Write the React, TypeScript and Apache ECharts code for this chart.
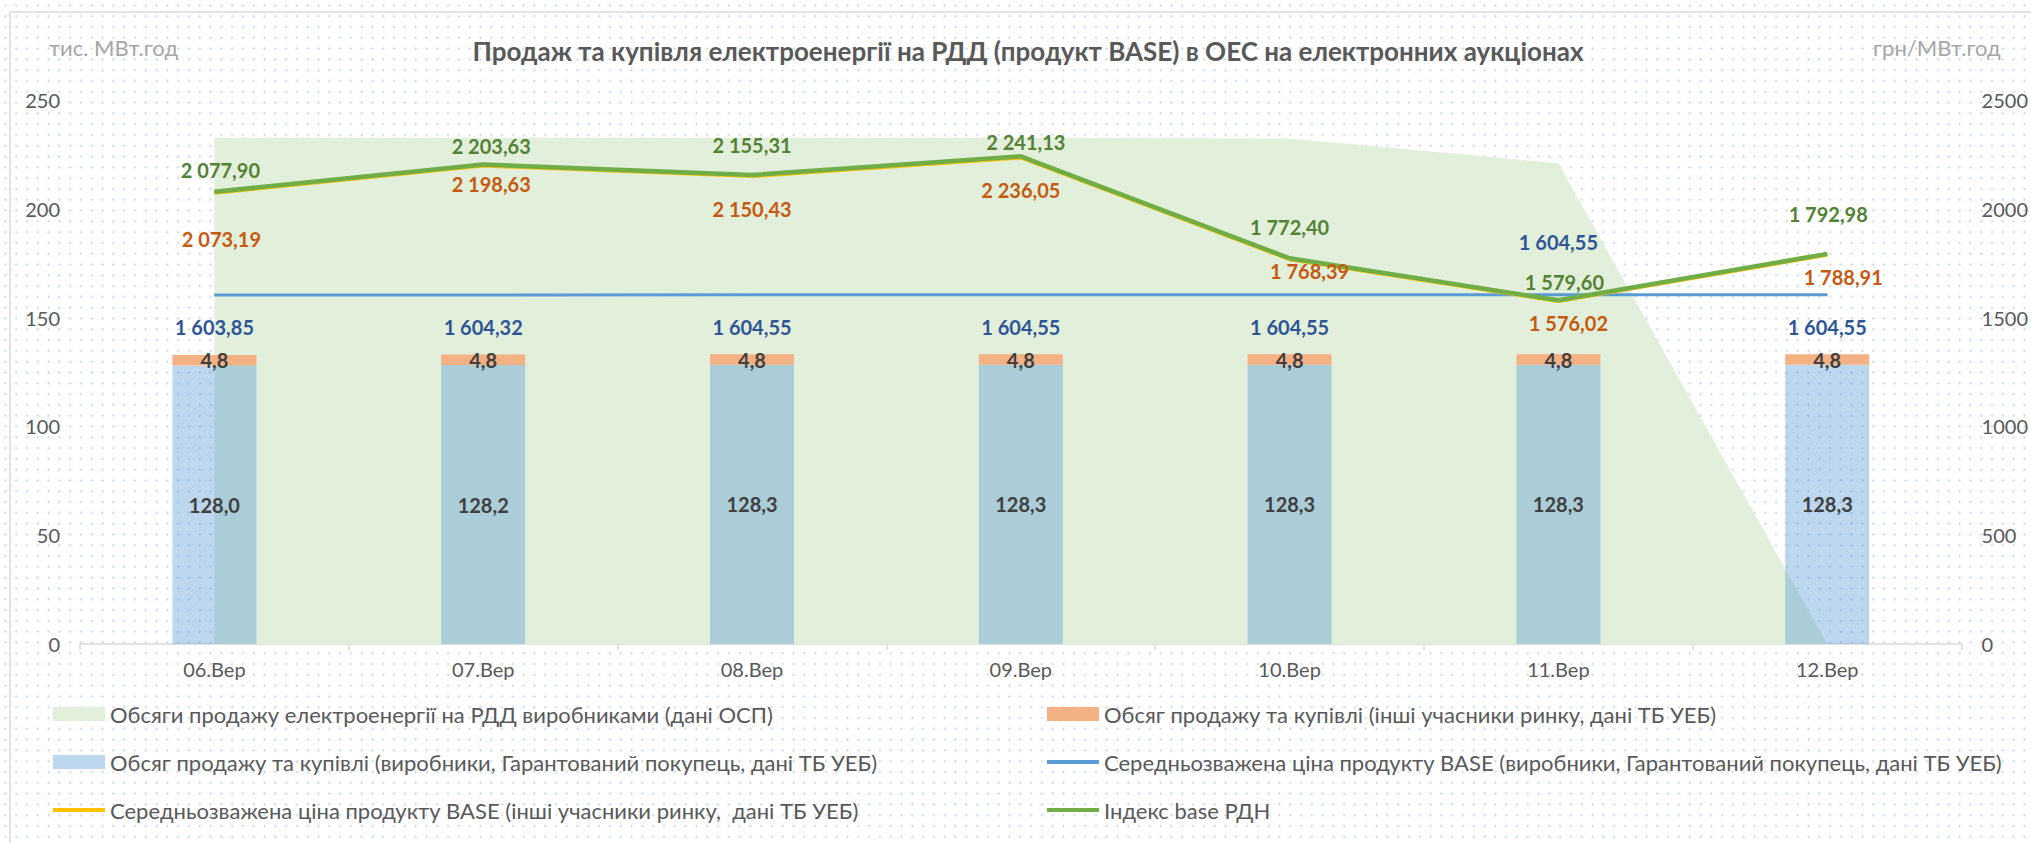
import React, { useEffect, useRef } from 'react';
import * as echarts from 'echarts';

// ---------- data ----------
const categories = ['06.Вер', '07.Вер', '08.Вер', '09.Вер', '10.Вер', '11.Вер', '12.Вер'];
const ospVolumes = [232.7, 232.7, 232.6, 232.6, 232.3, 220.9, 0];
const producerVolumes = [128.0, 128.2, 128.3, 128.3, 128.3, 128.3, 128.3];
const otherVolumes = [4.8, 4.8, 4.8, 4.8, 4.8, 4.8, 4.8];
const producerPrice = [1603.85, 1604.32, 1604.55, 1604.55, 1604.55, 1604.55, 1604.55];
const otherPrice = [2073.19, 2198.63, 2150.43, 2236.05, 1768.39, 1576.02, 1788.91];
const rdnIndex = [2077.9, 2203.63, 2155.31, 2241.13, 1772.4, 1579.6, 1792.98];
const leftAxisMax = 250;
const leftAxisStep = 50;
const rightAxisMax = 2500;
const rightAxisStep = 500;

const seriesNames = {
  osp: 'Обсяги продажу електроенергії на РДД виробниками (дані ОСП)',
  other: 'Обсяг продажу та купівлі (інші учасники ринку, дані ТБ УЕБ)',
  producers: 'Обсяг продажу та купівлі (виробники, Гарантований покупець, дані ТБ УЕБ)',
  producerPrice: 'Середньозважена ціна продукту BASE (виробники, Гарантований покупець, дані ТБ УЕБ)',
  otherPrice: 'Середньозважена ціна продукту BASE (інші учасники ринку,  дані ТБ УЕБ)',
  rdn: 'Індекс base РДН',
};
const titleText = 'Продаж та купівля електроенергії на РДД (продукт BASE) в ОЕС на електронних аукціонах';
const leftUnit = 'тис. МВт.год';
const rightUnit = 'грн/МВт.год';

// ---------- layout (label nudges, px) ----------
const rdnLabelShift = [[6, -22], [8, -18], [0, -30], [5, -14], [0, -31], [6, -18], [1, -40]];
const otherLabelShift = [[7, 46], [8, 18], [0, 33], [0, 33], [20, 12], [10, 22], [16, 22]];
const producerLabelShift = [[0, 32], [0, 32], [0, 32], [0, 32], [0, 32], [0, -53], [0, 32]];

const FONT = "Lato, 'Open Sans', sans-serif";

function fmt(v: number, d: number): string {
  const s = v.toFixed(d);
  const [i, f] = s.split('.');
  const ii = i.replace(/\B(?=(\d{3})+(?!\d))/g, ' ');
  return f ? ii + ',' + f : ii;
}

function priceSeries(name: string, values: number[], shifts: number[][], lineColor: string, labelColor: string, width: number) {
  return {
    name,
    type: 'line',
    yAxisIndex: 1,
    symbol: 'circle',
    symbolSize: 1,
    showSymbol: true,
    z: 4,
    lineStyle: { color: lineColor, width },
    itemStyle: { color: lineColor },
    data: values.map((v, i) => ({
      value: v,
      label: { offset: shifts[i] },
    })),
    label: {
      show: true,
      position: 'inside',
      align: 'center',
      verticalAlign: 'middle',
      fontFamily: FONT,
      fontWeight: 'bold',
      fontSize: 20,
      color: labelColor,
      formatter: (p: any) => fmt(p.value, 2),
    },
  };
}

function legendItem(name: string, left: number, centerY: number, iconH: number, color: string) {
  return {
    data: [{ name, icon: 'rect', itemStyle: { color, borderWidth: 0 } }],
    left,
    top: centerY - 14,
    padding: 0,
    itemWidth: 52,
    itemHeight: iconH,
    itemGap: 0,
    selectedMode: false,
    textStyle: { fontFamily: FONT, fontSize: 22, color: '#595959', lineHeight: 28 },
  };
}

export default function App() {
  const ref = useRef<HTMLDivElement>(null);

  useEffect(() => {
    if (!ref.current) return;
    const chart = echarts.init(ref.current, undefined, { renderer: 'svg' });
    const axisLabelStyle = { fontFamily: FONT, fontSize: 20, color: '#595959' };

    chart.setOption({
      animation: false,
      backgroundColor: 'transparent',
      grid: { left: 80, right: 67, top: 100, bottom: 199, containLabel: false },
      xAxis: {
        type: 'category',
        data: categories,
        boundaryGap: true,
        axisLine: { show: true, lineStyle: { color: '#d9d9d9', width: 1.5 } },
        axisTick: { show: true, length: 6, lineStyle: { color: '#d9d9d9', width: 1.5 } },
        axisLabel: { ...axisLabelStyle, margin: 15 },
        splitLine: { show: false },
      },
      yAxis: [
        {
          type: 'value',
          min: 0,
          max: leftAxisMax,
          interval: leftAxisStep,
          axisLine: { show: false },
          axisTick: { show: false },
          splitLine: { show: false },
          axisLabel: { ...axisLabelStyle, margin: 20, formatter: (v: number) => String(v) },
        },
        {
          type: 'value',
          min: 0,
          max: rightAxisMax,
          interval: rightAxisStep,
          position: 'right',
          axisLine: { show: false },
          axisTick: { show: false },
          splitLine: { show: false },
          axisLabel: { ...axisLabelStyle, margin: 20, formatter: (v: number) => String(v) },
        },
      ],
      legend: [
        legendItem(seriesNames.osp, 53, 714, 14, '#e2efda'),
        legendItem(seriesNames.producers, 53, 762, 14, '#bdd7ee'),
        legendItem(seriesNames.otherPrice, 53, 810, 4, '#ffc000'),
        legendItem(seriesNames.other, 1047, 714, 14, '#f4b183'),
        legendItem(seriesNames.producerPrice, 1047, 762, 4, '#5b9bd5'),
        legendItem(seriesNames.rdn, 1047, 810, 4, '#70ad47'),
      ],
      graphic: [
        {
          type: 'rect',
          z: -10,
          silent: true,
          shape: { x: 10, y: 12, width: 2100, height: 900 },
          style: { fill: 'none', stroke: '#d9d9d9', lineWidth: 1.5 },
        },
        {
          type: 'text',
          x: 1028,
          y: 51,
          silent: true,
          style: {
            text: titleText,
            fill: '#595959',
            fontFamily: FONT,
            fontWeight: 'bold',
            fontSize: 26,
            textAlign: 'center',
            align: 'center',
            textVerticalAlign: 'middle',
            verticalAlign: 'middle',
          },
        },
        {
          type: 'text',
          x: 49,
          y: 47,
          silent: true,
          style: {
            text: leftUnit,
            fill: '#a6a6a6',
            fontFamily: FONT,
            fontSize: 22,
            textAlign: 'left',
            align: 'left',
            textVerticalAlign: 'middle',
            verticalAlign: 'middle',
          },
        },
        {
          type: 'text',
          x: 1873,
          y: 47,
          silent: true,
          style: {
            text: rightUnit,
            fill: '#a6a6a6',
            fontFamily: FONT,
            fontSize: 22,
            textAlign: 'left',
            align: 'left',
            textVerticalAlign: 'middle',
            verticalAlign: 'middle',
          },
        },
      ],
      series: [
        {
          name: seriesNames.osp,
          type: 'line',
          yAxisIndex: 0,
          symbol: 'none',
          z: 1,
          lineStyle: { width: 0, color: '#e2efda' },
          itemStyle: { color: '#e2efda' },
          areaStyle: { color: '#e2efda', opacity: 1 },
          data: ospVolumes,
        },
        {
          name: seriesNames.producers,
          type: 'bar',
          stack: 'vol',
          yAxisIndex: 0,
          barWidth: 84,
          z: 2,
          itemStyle: { color: 'rgba(91,155,213,0.4)' },
          label: {
            show: true,
            position: 'inside',
            fontFamily: FONT,
            fontWeight: 'bold',
            fontSize: 20,
            color: '#404040',
            formatter: (p: any) => fmt(p.value, 1),
          },
          data: producerVolumes,
        },
        {
          name: seriesNames.other,
          type: 'bar',
          stack: 'vol',
          yAxisIndex: 0,
          barWidth: 84,
          z: 2,
          itemStyle: { color: '#f4b183' },
          label: {
            show: true,
            position: 'inside',
            fontFamily: FONT,
            fontWeight: 'bold',
            fontSize: 20,
            color: '#404040',
            formatter: (p: any) => fmt(p.value, 1),
          },
          data: otherVolumes,
        },
        priceSeries(seriesNames.producerPrice, producerPrice, producerLabelShift, '#5b9bd5', '#2f5597', 3),
        priceSeries(seriesNames.otherPrice, otherPrice, otherLabelShift, '#ffc000', '#c55a11', 4),
        priceSeries(seriesNames.rdn, rdnIndex, rdnLabelShift, '#70ad47', '#548235', 4.5),
      ],
    });

    return () => chart.dispose();
  }, []);

  return (
    <div
      style={{
        position: 'fixed',
        left: 0,
        top: 0,
        width: 2031,
        height: 843,
        backgroundColor: '#ffffff',
        backgroundImage: 'radial-gradient(circle at center, #cad8eb 0.9px, rgba(255,255,255,0) 1.4px)',
        backgroundSize: '10.8px 10.8px',
      }}
    >
      <div ref={ref} style={{ width: 2031, height: 843 }} />
    </div>
  );
}
